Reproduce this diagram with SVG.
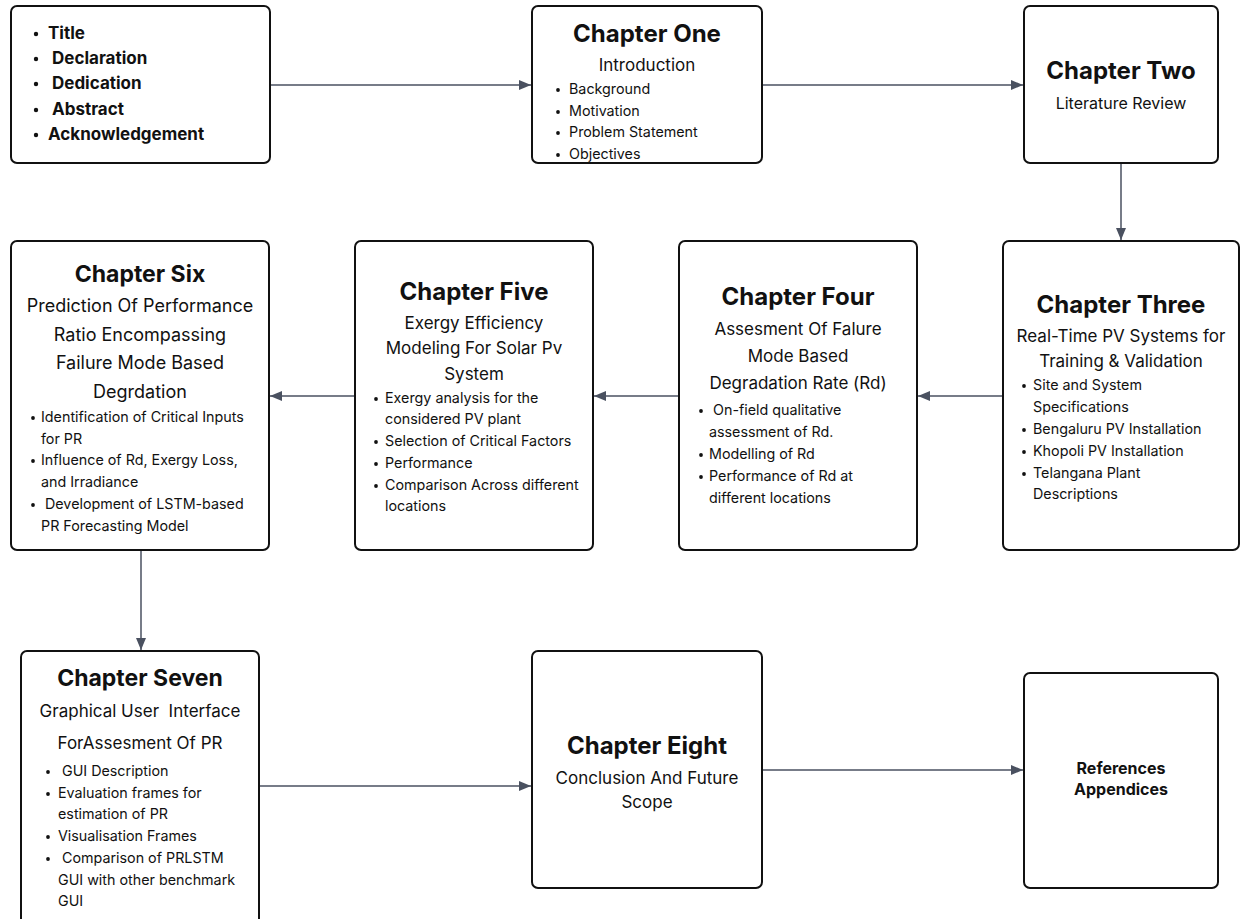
<svg xmlns="http://www.w3.org/2000/svg" width="1240" height="919" viewBox="0 0 1240 919">
  <style>
    .box { fill: #ffffff; stroke: #111111; stroke-width: 2; }
    .edge { fill: none; stroke: #4a5160; stroke-width: 1.5; }
    text { font-family: Inter, "Noto Sans", "Liberation Sans", sans-serif; fill: #111111; }
    .title { font-size: 24px; font-weight: 700; text-anchor: middle; }
    .t23 { font-size: 23px; }
    .sub { font-size: 17px; text-anchor: middle; }
    .sub16 { font-size: 16px; text-anchor: middle; }
    .sub18 { font-size: 18px; text-anchor: middle; }
    .li { font-size: 14.3px; }
    .front { font-size: 17px; font-weight: 700; }
    .refs { font-size: 16px; font-weight: 700; text-anchor: middle; }
  </style>
  <defs>
    <marker id="arrow" viewBox="0 0 12 10" refX="12" refY="5" markerWidth="12" markerHeight="10" markerUnits="userSpaceOnUse" orient="auto">
      <path d="M0,0 L12,5 L0,10 Z" fill="#4a5160"/>
    </marker>
  </defs>
  <rect width="1240" height="919" fill="#ffffff"/>

  <!-- connectors -->
  <g id="connectors">
    <line class="edge" x1="271" y1="85" x2="531" y2="85" marker-end="url(#arrow)"/>
    <line class="edge" x1="763" y1="85" x2="1023" y2="85" marker-end="url(#arrow)"/>
    <line class="edge" x1="1121" y1="164" x2="1121" y2="240" marker-end="url(#arrow)"/>
    <line class="edge" x1="1002" y1="396" x2="918" y2="396" marker-end="url(#arrow)"/>
    <line class="edge" x1="678" y1="396" x2="594" y2="396" marker-end="url(#arrow)"/>
    <line class="edge" x1="354" y1="396" x2="270" y2="396" marker-end="url(#arrow)"/>
    <line class="edge" x1="141" y1="551" x2="141" y2="650" marker-end="url(#arrow)"/>
    <line class="edge" x1="260" y1="786" x2="531" y2="786" marker-end="url(#arrow)"/>
    <line class="edge" x1="763" y1="770" x2="1023" y2="770" marker-end="url(#arrow)"/>
  </g>

  <!-- preliminary pages -->
  <g id="front-matter">
    <rect class="box" x="11" y="6" width="259" height="157" rx="6"/>
    <g class="front">
      <text x="48" y="39">Title</text>
      <text x="52" y="64">Declaration</text>
      <text x="52" y="89">Dedication</text>
      <text x="52" y="115">Abstract</text>
      <text x="48" y="140">Acknowledgement</text>
    </g>
    <g fill="#111111">
      <circle cx="36" cy="34" r="2.2"/>
      <circle cx="36" cy="59" r="2.2"/>
      <circle cx="36" cy="84" r="2.2"/>
      <circle cx="36" cy="110" r="2.2"/>
      <circle cx="36" cy="135" r="2.2"/>
    </g>
  </g>

  <g id="chapter-one">
    <rect class="box" x="532" y="6" width="230" height="157" rx="6"/>
    <text class="title" x="647" y="42">Chapter One</text>
    <text class="sub" x="647" y="71">Introduction</text>
    <g class="li">
      <text x="569" y="94">Background</text>
      <text x="569" y="116">Motivation</text>
      <text x="569" y="137">Problem Statement</text>
      <text x="569" y="159">Objectives</text>
    </g>
    <g fill="#111111">
      <circle cx="558" cy="90" r="1.9"/>
      <circle cx="558" cy="112" r="1.9"/>
      <circle cx="558" cy="133" r="1.9"/>
      <circle cx="558" cy="155" r="1.9"/>
    </g>
  </g>

  <g id="chapter-two">
    <rect class="box" x="1024" y="6" width="194" height="157" rx="6"/>
    <text class="title" x="1121" y="79">Chapter Two</text>
    <text class="sub16" x="1121" y="109">Literature Review</text>
  </g>

  <g id="chapter-three">
    <rect class="box" x="1003" y="241" width="236" height="309" rx="6"/>
    <text class="title" x="1121" y="313">Chapter Three</text>
    <text class="sub" x="1121" y="342">Real-Time PV Systems for</text>
    <text class="sub" x="1121" y="367">Training &amp; Validation</text>
    <g class="li">
      <text x="1033" y="390">Site and System</text>
      <text x="1033" y="412">Specifications</text>
      <text x="1033" y="434">Bengaluru PV Installation</text>
      <text x="1033" y="456">Khopoli PV Installation</text>
      <text x="1033" y="478">Telangana Plant</text>
      <text x="1033" y="499">Descriptions</text>
    </g>
    <g fill="#111111">
      <circle cx="1024" cy="386" r="1.9"/>
      <circle cx="1024" cy="430" r="1.9"/>
      <circle cx="1024" cy="452" r="1.9"/>
      <circle cx="1024" cy="474" r="1.9"/>
    </g>
  </g>

  <g id="chapter-four">
    <rect class="box" x="679" y="241" width="238" height="309" rx="6"/>
    <text class="title" x="798" y="305">Chapter Four</text>
    <text class="sub" x="798" y="335">Assesment Of Falure</text>
    <text class="sub" x="798" y="362">Mode Based</text>
    <text class="sub" x="798" y="389">Degradation Rate (Rd)</text>
    <g class="li">
      <text x="713" y="415">On-field qualitative</text>
      <text x="709" y="437">assessment of Rd.</text>
      <text x="709" y="459">Modelling of Rd</text>
      <text x="709" y="481">Performance of Rd at</text>
      <text x="709" y="503">different locations</text>
    </g>
    <g fill="#111111">
      <circle cx="701" cy="411" r="1.9"/>
      <circle cx="701" cy="455" r="1.9"/>
      <circle cx="701" cy="477" r="1.9"/>
    </g>
  </g>

  <g id="chapter-five">
    <rect class="box" x="355" y="241" width="238" height="309" rx="6"/>
    <text class="title" x="474" y="300">Chapter Five</text>
    <text class="sub" x="474" y="329">Exergy Efficiency</text>
    <text class="sub" x="474" y="354">Modeling For Solar Pv</text>
    <text class="sub" x="474" y="380">System</text>
    <g class="li">
      <text x="385" y="403">Exergy analysis for the</text>
      <text x="385" y="424">considered PV plant</text>
      <text x="385" y="446">Selection of Critical Factors</text>
      <text x="385" y="468">Performance</text>
      <text x="385" y="490">Comparison Across different</text>
      <text x="385" y="511">locations</text>
    </g>
    <g fill="#111111">
      <circle cx="376" cy="399" r="1.9"/>
      <circle cx="376" cy="442" r="1.9"/>
      <circle cx="376" cy="464" r="1.9"/>
      <circle cx="376" cy="486" r="1.9"/>
    </g>
  </g>

  <g id="chapter-six">
    <rect class="box" x="11" y="241" width="258" height="309" rx="6"/>
    <text class="title t23" x="140" y="282">Chapter Six</text>
    <text class="sub18" x="140" y="312">Prediction Of Performance</text>
    <text class="sub18" x="140" y="341">Ratio Encompassing</text>
    <text class="sub18" x="140" y="369">Failure Mode Based</text>
    <text class="sub18" x="140" y="398">Degrdation</text>
    <g class="li">
      <text x="41" y="422">Identification of Critical Inputs</text>
      <text x="41" y="444">for PR</text>
      <text x="41" y="465">Influence of Rd, Exergy Loss,</text>
      <text x="41" y="487">and Irradiance</text>
      <text x="45" y="509">Development of LSTM-based</text>
      <text x="41" y="531">PR Forecasting Model</text>
    </g>
    <g fill="#111111">
      <circle cx="33" cy="418" r="1.9"/>
      <circle cx="33" cy="461" r="1.9"/>
      <circle cx="33" cy="505" r="1.9"/>
    </g>
  </g>

  <g id="chapter-seven">
    <rect class="box" x="21" y="651" width="238" height="290" rx="6"/>
    <text class="title t23" x="140" y="686">Chapter Seven</text>
    <text class="sub" x="140" y="717" xml:space="preserve">Graphical User  Interface</text>
    <text class="sub" x="140" y="749">ForAssesment Of PR</text>
    <g class="li">
      <text x="62" y="776">GUI Description</text>
      <text x="58" y="798">Evaluation frames for</text>
      <text x="58" y="819">estimation of PR</text>
      <text x="58" y="841">Visualisation Frames</text>
      <text x="62" y="863">Comparison of PRLSTM</text>
      <text x="58" y="885">GUI with other benchmark</text>
      <text x="58" y="906">GUI</text>
    </g>
    <g fill="#111111">
      <circle cx="48" cy="772" r="1.9"/>
      <circle cx="48" cy="794" r="1.9"/>
      <circle cx="48" cy="837" r="1.9"/>
      <circle cx="48" cy="859" r="1.9"/>
    </g>
  </g>

  <g id="chapter-eight">
    <rect class="box" x="532" y="651" width="230" height="237" rx="6"/>
    <text class="title" x="647" y="754" font-size="23.5">Chapter Eight</text>
    <text class="sub" x="647" y="784">Conclusion And Future</text>
    <text class="sub" x="647" y="808">Scope</text>
  </g>

  <g id="references">
    <rect class="box" x="1024" y="673" width="194" height="215" rx="6"/>
    <text class="refs" x="1121" y="774">References</text>
    <text class="refs" x="1121" y="795">Appendices</text>
  </g>
</svg>
